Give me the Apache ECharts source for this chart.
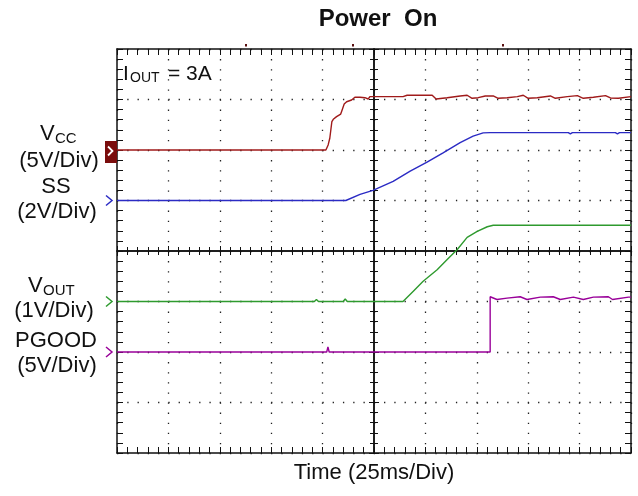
<!DOCTYPE html>
<html>
<head>
<meta charset="utf-8">
<script src="https://cdn.jsdelivr.net/npm/echarts@6/dist/echarts.min.js"></script>
<style>
  html, body { margin: 0; padding: 0; background: #fff; }
  #chart { width: 638px; height: 496px; }
</style>
</head>
<body>
<div id="chart"></div>
<script>
// time in ms (25 ms/div, 10 div), values in volts
const vccT = [0, 101.6, 102.7, 103.5, 104.0, 104.5, 105.2, 106.8, 108.8, 109.5, 110.5, 111.7, 114.1, 115.7, 116.6, 118.2, 120.6, 122.2, 123.0, 124.5, 139.1, 141.1, 153.3, 155.2, 160.6, 166.9, 170.3, 172.7, 175.7, 179.1, 183.0, 185.4, 189.8, 194.7, 197.6, 200.0, 204.4, 210.8, 213.2, 219.0, 223.9, 226.8, 231.7, 237.6, 240.0, 243.9, 250];
const vccV = [0, 0, 0.5, 1.16, 1.98, 2.80, 3.04, 3.30, 3.56, 3.96, 4.55, 4.78, 4.95, 5.22, 5.35, 5.22, 5.18, 5.05, 5.28, 5.28, 5.28, 5.42, 5.42, 5.05, 5.18, 5.35, 5.42, 5.12, 5.18, 5.35, 5.35, 5.12, 5.18, 5.28, 5.42, 5.12, 5.18, 5.35, 5.12, 5.28, 5.38, 5.12, 5.22, 5.38, 5.15, 5.12, 5.28];

const ssT = [0, 111.3, 118.2, 124.5, 134.3, 142.6, 150.8, 158.6, 166.9, 173.2, 178.1, 181.5, 219.5, 220.5, 221.5, 242.4, 243.4, 244.4, 250];
const ssV = [0, 0, 0.24, 0.40, 0.76, 1.16, 1.52, 1.89, 2.29, 2.55, 2.68, 2.69, 2.69, 2.64, 2.69, 2.69, 2.64, 2.69, 2.69];

const voutT = [0, 96, 97, 98, 110, 111, 112, 139.1, 144.0, 148.9, 155.7, 160.6, 165.5, 170.3, 175.2, 180.1, 183.0, 250];
const voutV = [0, 0, 0.04, 0, 0, 0.05, 0, 0, 0.20, 0.40, 0.63, 0.83, 1.03, 1.27, 1.39, 1.48, 1.51, 1.51];

const pgT = [0, 102.0, 102.6, 103.2, 181.5, 181.5, 184.8, 189.7, 196.1, 199.4, 205.9, 212.2, 215.6, 222.0, 226.8, 231.7, 239.0, 241.0, 248.8, 250];
const pgV = [0, 0, 0.5, 0, 0, 5.47, 5.20, 5.33, 5.47, 5.20, 5.43, 5.47, 5.20, 5.43, 5.20, 5.43, 5.47, 5.20, 5.43, 5.43];

// volts per division and ground level (division from bottom)
const channels = [
  { name: "VCC", t: vccT, v: vccV, scale: 5, ground: 6, color: "#a01a1a" },
  { name: "SS", t: ssT, v: ssV, scale: 2, ground: 5, color: "#2b2bc4" },
  { name: "VOUT", t: voutT, v: voutV, scale: 1, ground: 3, color: "#2e9a2e" },
  { name: "PGOOD", t: pgT, v: pgV, scale: 5, ground: 2, color: "#990099" }
];

const font = "Liberation Sans, Arial, sans-serif";
const black = "#111";

function edgeAxis(extra) {
  return Object.assign({
    type: "value",
    axisLine: { show: true, onZero: false, lineStyle: { color: black, width: 1.5 } },
    axisTick: { show: true, inside: true, length: 6, lineStyle: { color: black, width: 1 } },
    minorTick: { show: true, splitNumber: 5, length: 6, lineStyle: { color: black, width: 1 } },
    axisLabel: { show: false },
    splitLine: { show: false }
  }, extra);
}

function centerAxis(extra) {
  return Object.assign({
    type: "value",
    axisLine: { show: true, onZero: false, lineStyle: { color: black, width: 1.5 } },
    axisTick: { show: true, inside: true, length: 5, lineStyle: { color: black, width: 1 } },
    minorTick: { show: true, splitNumber: 5, length: 4, lineStyle: { color: black, width: 1 } },
    axisLabel: { show: false },
    splitLine: { show: false }
  }, extra);
}

const xr = { min: 0, max: 250, interval: 25 };
const yr = { min: 0, max: 8, interval: 1 };

let myChart = echarts.init(document.getElementById("chart"));

let option = {
  animation: false,
  backgroundColor: "#fff",
  grid: { left: 117, top: 49, width: 514, height: 404 },
  xAxis: [
    edgeAxis(Object.assign({
      position: "bottom",
      name: "Time (25ms/Div)",
      nameLocation: "middle",
      nameGap: 9,
      nameTextStyle: { fontFamily: font, fontSize: 22, color: "#111", verticalAlign: "top" },
      splitLine: { show: true, lineStyle: { color: "#222", width: 1.3, type: [1.3, 8.8] } }
    }, xr)),
    edgeAxis(Object.assign({ position: "top" }, xr)),
    centerAxis(Object.assign({ position: "bottom", offset: -202 }, xr)),
    centerAxis(Object.assign({ position: "top", offset: -202 }, xr))
  ],
  yAxis: [
    edgeAxis(Object.assign({
      position: "left",
      splitLine: { show: true, lineStyle: { color: "#222", width: 1.3, type: [1.3, 8.97] } }
    }, yr)),
    edgeAxis(Object.assign({ position: "right" }, yr)),
    centerAxis(Object.assign({ position: "left", offset: -257 }, yr)),
    centerAxis(Object.assign({ position: "right", offset: -257 }, yr))
  ],
  series: channels.map(ch => ({
    name: ch.name,
    type: "line",
    xAxisIndex: 0,
    yAxisIndex: 0,
    showSymbol: false,
    symbol: "none",
    lineStyle: { color: ch.color, width: 1.4 },
    data: ch.t.map((t, i) => [t, ch.ground + ch.v[i] / ch.scale]),
    z: 5
  }))
};

myChart.setOption(option);

// channel ground markers and left labels
let gfx = [];
channels.forEach((ch, i) => {
  let p = myChart.convertToPixel({ gridIndex: 0 }, [0, ch.ground]);
  let x = p[0], y = p[1];
  if (i == 0) {
    gfx.push({ type: "rect", shape: { x: x - 12, y: y - 9, width: 12, height: 22 }, style: { fill: "#7a0c0c" }, z: 10 });
    gfx.push({ type: "polyline", shape: { points: [[x - 9, y - 3.5], [x - 4.5, y + 1], [x - 9, y + 5.5]] }, style: { stroke: "#fff", lineWidth: 1.8, fill: null }, z: 11 });
  } else {
    gfx.push({ type: "polyline", shape: { points: [[x - 11, y - 5], [x - 5, y], [x - 11, y + 5]] }, style: { stroke: ch.color, lineWidth: 1.5, fill: null }, z: 10 });
  }
});

function txt(x, y, s, size, weight, align) {
  return {
    type: "text", x: x, y: y, z: 20,
    style: {
      text: s, fill: "#111", font: (weight || "normal") + " " + size + "px " + font,
      align: align || "center", textAlign: align || "center",
      verticalAlign: "middle", textVerticalAlign: "middle"
    }
  };
}

gfx.push(txt(378, 19, "Power  On", 24, "bold"));
// V_CC
gfx.push(txt(40, 134, "V", 22, "normal", "left"));
gfx.push(txt(55, 139, "CC", 15, "normal", "left"));
gfx.push(txt(59, 161, "(5V/Div)", 22));
gfx.push(txt(56, 187, "SS", 22));
gfx.push(txt(57, 212, "(2V/Div)", 22));
// V_OUT
gfx.push(txt(28, 286, "V", 22, "normal", "left"));
gfx.push(txt(43, 291, "OUT", 15, "normal", "left"));
gfx.push(txt(54, 311, "(1V/Div)", 22));
gfx.push(txt(56, 341, "PGOOD", 22));
gfx.push(txt(57, 366, "(5V/Div)", 22));
// I_OUT = 3A
gfx.push(txt(123, 74, "I", 21, "normal", "left"));
gfx.push(txt(130, 78, "OUT", 14, "normal", "left"));
gfx.push(txt(168, 74, "= 3A", 21, "normal", "left"));
// small trigger marks above the screen
[[245, 44], [352, 44], [502, 44]].forEach(m => {
  gfx.push({ type: "rect", shape: { x: m[0], y: m[1], width: 2, height: 2.5 }, style: { fill: "#5a1010" }, z: 10 });
});

myChart.setOption({ graphic: gfx });
</script>
</body>
</html>
